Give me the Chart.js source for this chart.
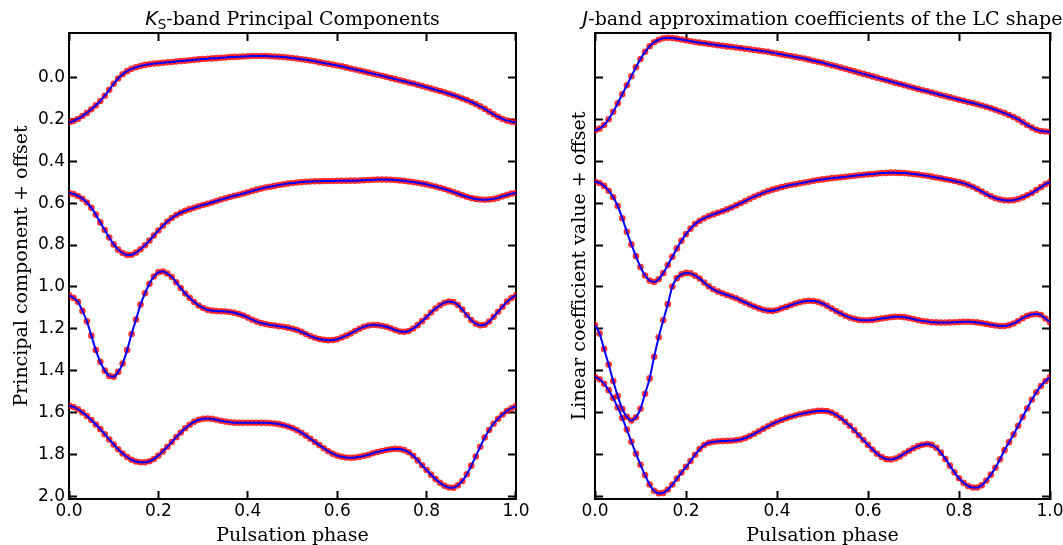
<!DOCTYPE html>
<html lang="en">
<head>
<meta charset="UTF-8">
<title>Ks-band principal components and J-band coefficients</title>
<script src="https://cdn.jsdelivr.net/npm/chart.js"></script>
<style>
  body { margin: 0; background: #fff; }
  #wrap { position: relative; width: 1063px; height: 545px; overflow: hidden; }
  canvas { position: absolute; top: 0; }
</style>
</head>
<body>
<div id="wrap">
  <canvas id="ks" width="540" height="545" style="left:0"></canvas>
  <canvas id="jb" width="540" height="545" style="left:540px"></canvas>
</div>
<script>
// pulsation phase grid shared by every curve
const phase = [
  0.00, 0.01, 0.02, 0.03, 0.04, 0.05, 0.06, 0.07, 0.08, 0.09,
  0.10, 0.11, 0.12, 0.13, 0.14, 0.15, 0.16, 0.17, 0.18, 0.19,
  0.20, 0.21, 0.22, 0.23, 0.24, 0.25, 0.26, 0.27, 0.28, 0.29,
  0.30, 0.31, 0.32, 0.33, 0.34, 0.35, 0.36, 0.37, 0.38, 0.39,
  0.40, 0.41, 0.42, 0.43, 0.44, 0.45, 0.46, 0.47, 0.48, 0.49,
  0.50, 0.51, 0.52, 0.53, 0.54, 0.55, 0.56, 0.57, 0.58, 0.59,
  0.60, 0.61, 0.62, 0.63, 0.64, 0.65, 0.66, 0.67, 0.68, 0.69,
  0.70, 0.71, 0.72, 0.73, 0.74, 0.75, 0.76, 0.77, 0.78, 0.79,
  0.80, 0.81, 0.82, 0.83, 0.84, 0.85, 0.86, 0.87, 0.88, 0.89,
  0.90, 0.91, 0.92, 0.93, 0.94, 0.95, 0.96, 0.97, 0.98, 0.99,
  1.00
];

// Ks-band principal components, offset for display
const ksPC1 = [
  0.215, 0.209, 0.199, 0.185, 0.170, 0.153, 0.134, 0.113, 0.088, 0.060,
  0.031, 0.006, -0.014, -0.029, -0.040, -0.048, -0.054, -0.059, -0.062, -0.065,
  -0.067, -0.069, -0.071, -0.073, -0.075, -0.077, -0.079, -0.081, -0.083, -0.085,
  -0.087, -0.088, -0.090, -0.091, -0.093, -0.094, -0.096, -0.097, -0.098, -0.099,
  -0.100, -0.101, -0.101, -0.101, -0.101, -0.100, -0.099, -0.098, -0.096, -0.094,
  -0.092, -0.089, -0.086, -0.083, -0.080, -0.076, -0.072, -0.068, -0.064, -0.060,
  -0.056, -0.052, -0.047, -0.042, -0.037, -0.032, -0.027, -0.022, -0.017, -0.012,
  -0.007, -0.002, 0.004, 0.009, 0.014, 0.019, 0.025, 0.030, 0.036, 0.042,
  0.048, 0.054, 0.060, 0.066, 0.072, 0.079, 0.086, 0.093, 0.101, 0.109,
  0.118, 0.128, 0.139, 0.151, 0.164, 0.177, 0.189, 0.199, 0.207, 0.212,
  0.215
];
const ksPC2 = [
  0.552, 0.557, 0.566, 0.579, 0.597, 0.622, 0.655, 0.692, 0.728, 0.764,
  0.797, 0.822, 0.838, 0.847, 0.846, 0.836, 0.820, 0.801, 0.779, 0.755,
  0.731, 0.708, 0.688, 0.671, 0.657, 0.646, 0.637, 0.629, 0.622, 0.615,
  0.609, 0.603, 0.597, 0.590, 0.583, 0.577, 0.571, 0.565, 0.560, 0.554,
  0.548, 0.542, 0.536, 0.531, 0.526, 0.522, 0.518, 0.514, 0.510, 0.507,
  0.504, 0.502, 0.500, 0.498, 0.497, 0.496, 0.496, 0.495, 0.495, 0.495,
  0.494, 0.494, 0.494, 0.493, 0.493, 0.492, 0.491, 0.490, 0.489, 0.488,
  0.488, 0.488, 0.489, 0.490, 0.492, 0.494, 0.497, 0.500, 0.503, 0.507,
  0.511, 0.516, 0.521, 0.527, 0.533, 0.540, 0.547, 0.555, 0.563, 0.570,
  0.576, 0.580, 0.583, 0.584, 0.583, 0.580, 0.575, 0.568, 0.561, 0.555,
  0.552
];
const ksPC3 = [
  1.040, 1.052, 1.071, 1.114, 1.164, 1.232, 1.301, 1.357, 1.399, 1.424,
  1.428, 1.405, 1.365, 1.301, 1.224, 1.155, 1.084, 1.030, 0.985, 0.950,
  0.930, 0.926, 0.936, 0.953, 0.978, 1.005, 1.031, 1.052, 1.072, 1.088,
  1.100, 1.109, 1.113, 1.115, 1.116, 1.117, 1.119, 1.123, 1.129, 1.136,
  1.146, 1.156, 1.165, 1.172, 1.177, 1.181, 1.184, 1.187, 1.190, 1.194,
  1.199, 1.205, 1.214, 1.224, 1.234, 1.242, 1.248, 1.252, 1.254, 1.253,
  1.249, 1.241, 1.232, 1.222, 1.210, 1.199, 1.190, 1.184, 1.181, 1.182,
  1.185, 1.190, 1.197, 1.205, 1.212, 1.214, 1.210, 1.198, 1.182, 1.163,
  1.143, 1.122, 1.103, 1.087, 1.075, 1.069, 1.072, 1.086, 1.108, 1.134,
  1.158, 1.175, 1.183, 1.180, 1.165, 1.142, 1.118, 1.094, 1.070, 1.053,
  1.040
];
const ksPC4 = [
  1.566, 1.572, 1.583, 1.598, 1.615, 1.634, 1.656, 1.678, 1.702, 1.727,
  1.751, 1.774, 1.794, 1.811, 1.824, 1.832, 1.836, 1.836, 1.831, 1.820,
  1.804, 1.784, 1.762, 1.739, 1.716, 1.694, 1.674, 1.657, 1.643, 1.633,
  1.628, 1.627, 1.629, 1.633, 1.638, 1.642, 1.645, 1.647, 1.648, 1.648,
  1.648, 1.648, 1.648, 1.648, 1.648, 1.649, 1.651, 1.654, 1.659, 1.665,
  1.673, 1.683, 1.695, 1.709, 1.724, 1.739, 1.754, 1.769, 1.783, 1.795,
  1.804, 1.810, 1.813, 1.814, 1.813, 1.810, 1.805, 1.800, 1.793, 1.787,
  1.782, 1.777, 1.774, 1.772, 1.773, 1.778, 1.788, 1.805, 1.827, 1.850,
  1.873, 1.895, 1.916, 1.934, 1.948, 1.956, 1.957, 1.946, 1.925, 1.893,
  1.852, 1.808, 1.762, 1.718, 1.682, 1.652, 1.628, 1.608, 1.591, 1.578,
  1.568
];

// J-band approximation coefficients, offset for display
const jCoef1 = [
  0.254, 0.245, 0.228, 0.200, 0.165, 0.124, 0.081, 0.038, -0.005, -0.048,
  -0.087, -0.121, -0.148, -0.167, -0.179, -0.186, -0.188, -0.187, -0.184, -0.180,
  -0.176, -0.172, -0.168, -0.165, -0.162, -0.159, -0.156, -0.153, -0.150, -0.147,
  -0.145, -0.142, -0.139, -0.136, -0.133, -0.130, -0.127, -0.124, -0.121, -0.117,
  -0.113, -0.109, -0.105, -0.101, -0.097, -0.093, -0.089, -0.084, -0.079, -0.074,
  -0.069, -0.063, -0.057, -0.052, -0.046, -0.040, -0.034, -0.028, -0.022, -0.016,
  -0.010, -0.004, 0.002, 0.008, 0.014, 0.020, 0.026, 0.032, 0.038, 0.044,
  0.050, 0.056, 0.062, 0.067, 0.073, 0.079, 0.085, 0.090, 0.096, 0.101,
  0.107, 0.112, 0.118, 0.123, 0.129, 0.135, 0.141, 0.148, 0.155, 0.163,
  0.171, 0.180, 0.190, 0.201, 0.214, 0.228, 0.240, 0.250, 0.256, 0.259,
  0.260
];
const jCoef2 = [
  0.497, 0.504, 0.518, 0.541, 0.572, 0.614, 0.672, 0.737, 0.797, 0.853,
  0.905, 0.945, 0.969, 0.976, 0.963, 0.934, 0.896, 0.856, 0.816, 0.780,
  0.748, 0.722, 0.700, 0.684, 0.672, 0.662, 0.654, 0.646, 0.639, 0.630,
  0.621, 0.611, 0.601, 0.590, 0.579, 0.569, 0.560, 0.551, 0.543, 0.536,
  0.530, 0.524, 0.519, 0.514, 0.510, 0.506, 0.502, 0.498, 0.494, 0.490,
  0.487, 0.484, 0.481, 0.479, 0.477, 0.475, 0.472, 0.470, 0.467, 0.465,
  0.463, 0.461, 0.459, 0.457, 0.456, 0.455, 0.455, 0.456, 0.457, 0.459,
  0.461, 0.464, 0.467, 0.470, 0.474, 0.478, 0.482, 0.486, 0.490, 0.495,
  0.500, 0.506, 0.513, 0.522, 0.533, 0.545, 0.557, 0.568, 0.577, 0.583,
  0.587, 0.588, 0.586, 0.581, 0.573, 0.563, 0.552, 0.538, 0.524, 0.510,
  0.500
];
const jCoef3 = [
  1.182, 1.222, 1.296, 1.370, 1.448, 1.520, 1.582, 1.619, 1.637, 1.621,
  1.581, 1.509, 1.436, 1.333, 1.240, 1.159, 1.082, 0.998, 0.958, 0.940,
  0.933, 0.935, 0.946, 0.960, 0.979, 0.997, 1.011, 1.022, 1.030, 1.038,
  1.046, 1.054, 1.064, 1.074, 1.084, 1.093, 1.102, 1.109, 1.113, 1.114,
  1.110, 1.102, 1.095, 1.087, 1.079, 1.073, 1.068, 1.066, 1.067, 1.071,
  1.079, 1.090, 1.103, 1.115, 1.126, 1.137, 1.146, 1.152, 1.157, 1.159,
  1.159, 1.157, 1.154, 1.150, 1.147, 1.144, 1.142, 1.142, 1.144, 1.148,
  1.153, 1.158, 1.162, 1.165, 1.168, 1.169, 1.170, 1.170, 1.169, 1.168,
  1.167, 1.166, 1.166, 1.167, 1.169, 1.172, 1.176, 1.180, 1.184, 1.186,
  1.186, 1.182, 1.174, 1.162, 1.149, 1.138, 1.131, 1.129, 1.134, 1.150,
  1.168
];
const jCoef4 = [
  1.429, 1.440, 1.462, 1.492, 1.530, 1.575, 1.625, 1.680, 1.738, 1.795,
  1.848, 1.897, 1.942, 1.972, 1.984, 1.982, 1.966, 1.942, 1.914, 1.885,
  1.858, 1.830, 1.800, 1.773, 1.754, 1.743, 1.738, 1.736, 1.735, 1.734,
  1.733, 1.731, 1.727, 1.720, 1.711, 1.700, 1.688, 1.676, 1.664, 1.653,
  1.643, 1.634, 1.626, 1.619, 1.613, 1.607, 1.602, 1.598, 1.594, 1.591,
  1.590, 1.592, 1.599, 1.610, 1.625, 1.643, 1.662, 1.684, 1.707, 1.730,
  1.753, 1.775, 1.795, 1.811, 1.821, 1.823, 1.818, 1.808, 1.794, 1.781,
  1.769, 1.759, 1.752, 1.749, 1.753, 1.767, 1.790, 1.820, 1.852, 1.884,
  1.912, 1.934, 1.949, 1.956, 1.956, 1.946, 1.923, 1.895, 1.862, 1.822,
  1.778, 1.740, 1.703, 1.662, 1.620, 1.578, 1.538, 1.502, 1.472, 1.448,
  1.430
];

// tick positions
const phaseTicks = [0.0, 0.2, 0.4, 0.6, 0.8, 1.0];
const offsetTicks = [0.0, 0.2, 0.4, 0.6, 0.8, 1.0, 1.2, 1.4, 1.6, 1.8, 2.0];

const tickFont = { family: '"DejaVu Sans", sans-serif', size: 17 };
const labelFont = { family: '"DejaVu Serif", serif', size: 19 };

const toPoints = vals => phase.map((p, i) => ({ x: p, y: vals[i] }));

function curveSets(series) {
  const sets = [];
  series.forEach(vals => {
    // smooth blue fit on top
    sets.push({
      data: toPoints(vals),
      showLine: true,
      borderColor: '#0000ff',
      borderWidth: 2,
      pointRadius: 0,
      cubicInterpolationMode: 'monotone',
      order: 0
    });
    // sampled points underneath
    sets.push({
      data: toPoints(vals),
      showLine: false,
      pointRadius: 3.3,
      pointBorderWidth: 0,
      pointBackgroundColor: 'rgba(255, 0, 0, 0.8)',
      order: 1
    });
  });
  return sets;
}

// grid lines off, short inward tick marks, black frame
const inwardGrid = { drawOnChartArea: false, tickLength: -8, tickWidth: 2, tickColor: '#000' };
const frame = { color: '#000', width: 2 };

function setTicks(values) {
  return scale => { scale.ticks = values.map(v => ({ value: v })); };
}

function buildScales(cfg) {
  return {
    x: {
      type: 'linear', position: 'bottom', min: 0, max: 1,
      afterBuildTicks: setTicks(phaseTicks),
      afterFit: s => { s.height = 46; },
      ticks: { callback: v => v.toFixed(1), font: tickFont, color: '#000', padding: 10.5, maxRotation: 0, autoSkip: false },
      grid: inwardGrid, border: frame,
      title: { display: true, text: 'Pulsation phase', font: labelFont, color: '#000', padding: { top: 0, bottom: -2 } }
    },
    xTop: {
      type: 'linear', position: 'top', min: 0, max: 1,
      afterBuildTicks: setTicks(phaseTicks),
      afterFit: s => { s.height = 33; },
      ticks: { display: false },
      grid: inwardGrid, border: frame
    },
    y: {
      type: 'linear', position: 'left', reverse: true, min: -0.211, max: 2.011,
      afterBuildTicks: setTicks(offsetTicks),
      afterFit: s => { s.width = cfg.leftWidth; },
      ticks: { display: cfg.yLabels, callback: v => v.toFixed(1), font: tickFont, color: '#000', padding: 12 },
      grid: inwardGrid, border: frame,
      title: { display: true, text: cfg.yTitle, font: labelFont, color: '#000', padding: { top: cfg.yTitlePad, bottom: 0 } }
    },
    yRight: {
      type: 'linear', position: 'right', reverse: true, min: -0.211, max: 2.011,
      afterBuildTicks: setTicks(offsetTicks),
      afterFit: s => { s.width = cfg.rightWidth; },
      ticks: { display: false },
      grid: inwardGrid, border: frame
    }
  };
}

// panel title with an italic band letter and optional subscript
const panelTitle = {
  id: 'panelTitle',
  afterDraw(chart, args, opts) {
    const { ctx, chartArea } = chart;
    ctx.save();
    let total = 0;
    opts.parts.forEach(p => {
      ctx.font = p.font;
      p.w = ctx.measureText(p.text).width;
      total += p.w;
    });
    let x = (chartArea.left + chartArea.right) / 2 - total / 2;
    ctx.fillStyle = '#000';
    ctx.textBaseline = 'alphabetic';
    opts.parts.forEach(p => {
      ctx.font = p.font;
      ctx.fillText(p.text, x, opts.baseline + (p.dy || 0));
      x += p.w;
    });
    ctx.restore();
  }
};

function makeChart(id, series, cfg, titleParts) {
  return new Chart(document.getElementById(id), {
    type: 'scatter',
    data: { datasets: curveSets(series) },
    options: {
      responsive: false,
      animation: false,
      layout: { padding: 0 },
      scales: buildScales(cfg),
      plugins: {
        legend: { display: false },
        tooltip: { enabled: false },
        panelTitle: { parts: titleParts, baseline: 25 }
      }
    },
    plugins: [panelTitle]
  });
}

makeChart('ks', [ksPC1, ksPC2, ksPC3, ksPC4],
  { leftWidth: 69, rightWidth: 16.5, yLabels: true, yTitle: 'Principal component + offset', yTitlePad: 10.6 },
  [
    { text: 'K', font: 'italic 19px "DejaVu Sans"' },
    { text: 'S', font: '13.5px "DejaVu Sans"', dy: 3.5 },
    { text: '-band Principal Components', font: '19px "DejaVu Serif"' }
  ]);

makeChart('jb', [jCoef1, jCoef2, jCoef3, jCoef4],
  { leftWidth: 55, rightWidth: 30, yLabels: false, yTitle: 'Linear coefficient value + offset', yTitlePad: 28.6 },
  [
    { text: 'J', font: 'italic 19px "DejaVu Sans"' },
    { text: '-band approximation coefficients of the LC shape', font: '19px "DejaVu Serif"' }
  ]);
</script>
</body>
</html>
